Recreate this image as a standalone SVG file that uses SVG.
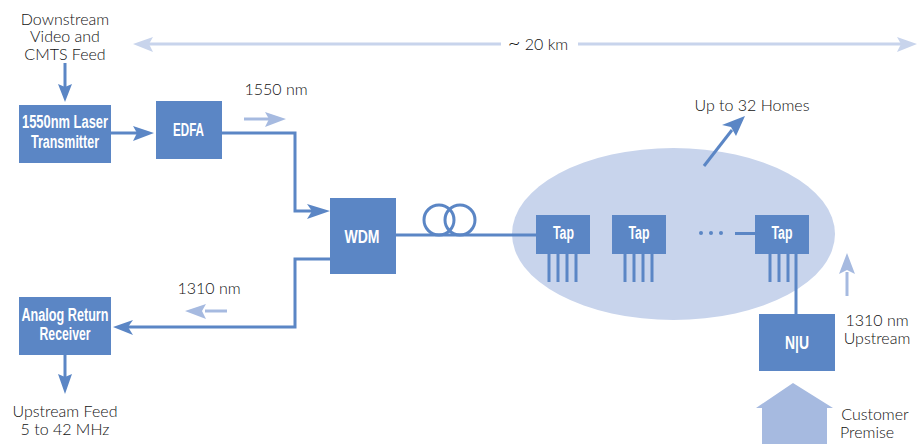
<svg xmlns="http://www.w3.org/2000/svg" width="924" height="444" viewBox="0 0 924 444">
<style>
.t{font-family:"Lato","Liberation Sans",sans-serif;font-weight:300;font-size:16px;fill:#111;text-anchor:middle}
.b{font-family:"Liberation Sans Narrow","Liberation Sans",sans-serif;font-weight:700;font-size:18px;fill:#fff;text-anchor:middle}
.box{fill:#5b86c5}
.c{fill:none;stroke:#5b86c5;stroke-width:3}
.l{fill:none;stroke:#a6bae0;stroke-width:3}
.p{fill:none;stroke:#c8d4ec;stroke-width:3}
.ah{fill:#5b86c5}.ahl{fill:#a6bae0}.ahp{fill:#c8d4ec}
</style>
<ellipse id="neighborhood" cx="673.500" cy="234" rx="161.500" ry="86" fill="#c8d4ec"/>
<g id="connectors">
<path class="p" d="M148 44H501M578 44H902"/>
<path class="ahp" d="M133 44L153 37L149 44L153 52ZM917 44L897 37L901 44L897 52Z"/>
<path class="c" d="M65 63V88"/><path class="ah" d="M65 102L58 84L65 87L72 84Z"/>
<path class="c" d="M111 133H140"/><path class="ah" d="M154 133L133 126L137 133L133 141Z"/>
<path class="c" d="M222 133H295V211H315"/><path class="ah" d="M330 211L307 204L312 211L307 219Z"/>
<path class="c" d="M330 259H295V327H126"/><path class="ah" d="M113 327L133 320L128 327L133 335Z"/>
<path class="c" d="M65 355V378"/><path class="ah" d="M65 394L58 374L65 377L72 374Z"/>
<path class="l" d="M244 119H270"/><path class="ahl" d="M286 119L265 112L269 119L265 127Z"/>
<path class="l" d="M227 311H205"/><path class="ahl" d="M185 311L206 304L202 311L206 319Z"/>
<path class="l" d="M847 296V272"/><path class="ahl" d="M847 253L839 274L847 270L855 274Z"/>
<path class="c" d="M704 166L732 130"/><path class="ah" d="M745 116L736 136L731 127L722 125Z"/>
<path class="c" d="M396 235H536"/>
<circle class="c" cx="439" cy="220" r="15"/><circle class="c" cx="460" cy="220" r="15"/>
<path class="c" d="M549 254V282M558 254V282M567 254V282M576 254V282"/>
<path class="c" d="M625 254V282M634 254V282M643 254V282M652 254V282"/>
<path class="c" d="M735 233.500H755"/>
<path class="c" d="M770 254V282M779 254V282M788 254V282"/>
<path class="c" d="M796 254V314"/>
<g fill="#5b86c5"><circle cx="701" cy="233" r="2"/><circle cx="711" cy="233" r="2"/><circle cx="721" cy="233" r="2"/></g>
</g>
<g id="laser"><rect class="box" x="19" y="105" width="92" height="58"/><text class="b" x="65" y="128" textLength="86" lengthAdjust="spacingAndGlyphs">1550nm Laser</text><text class="b" x="65" y="148" textLength="68" lengthAdjust="spacingAndGlyphs">Transmitter</text></g>
<g id="edfa"><rect class="box" x="156" y="101" width="66" height="58"/><text class="b" x="188.500" y="136" textLength="31" lengthAdjust="spacingAndGlyphs">EDFA</text></g>
<g id="wdm"><rect class="box" x="330" y="198" width="66" height="76"/><text class="b" x="362" y="243" textLength="35" lengthAdjust="spacingAndGlyphs">WDM</text></g>
<g id="receiver"><rect class="box" x="19" y="297" width="92" height="58"/><text class="b" x="65" y="321" textLength="87" lengthAdjust="spacingAndGlyphs">Analog Return</text><text class="b" x="65" y="340" textLength="51" lengthAdjust="spacingAndGlyphs">Receiver</text></g>
<g id="tap1"><rect class="box" x="536" y="215" width="54" height="39"/><text class="b" x="563.500" y="239" textLength="21" lengthAdjust="spacingAndGlyphs">Tap</text></g>
<g id="tap2"><rect class="box" x="612" y="215" width="54" height="39"/><text class="b" x="639" y="239" textLength="21" lengthAdjust="spacingAndGlyphs">Tap</text></g>
<g id="tap3"><rect class="box" x="755" y="215" width="54" height="39"/><text class="b" x="782" y="239" textLength="21" lengthAdjust="spacingAndGlyphs">Tap</text></g>
<g id="niu"><rect class="box" x="759" y="314" width="76" height="57"/><text class="b" x="797" y="349" textLength="24" lengthAdjust="spacingAndGlyphs">N|U</text></g>
<g id="premise"><path class="ahl" d="M793 383L833 408H827V444H762V408H756Z"/></g>
<g id="labels">
<text class="t" x="65" y="25">Downstream</text><text class="t" x="65" y="42">Video and</text><text class="t" x="65" y="60">CMTS Feed</text>
<text class="t" x="276" y="95">1550 nm</text>
<text class="t" x="209" y="294">1310 nm</text>
<text class="t" x="65" y="417">Upstream Feed</text><text class="t" x="65" y="435">5 to 42 MHz</text>
<text class="t" x="538" y="50"><tspan font-size="22">~</tspan> 20 km</text>
<text class="t" x="752" y="111">Up to 32 Homes</text>
<text class="t" x="877" y="326">1310 nm</text><text class="t" x="877" y="344">Upstream</text>
<text class="t" x="875" y="420">Customer</text><text class="t" x="867" y="438">Premise</text>
</g>
</svg>
